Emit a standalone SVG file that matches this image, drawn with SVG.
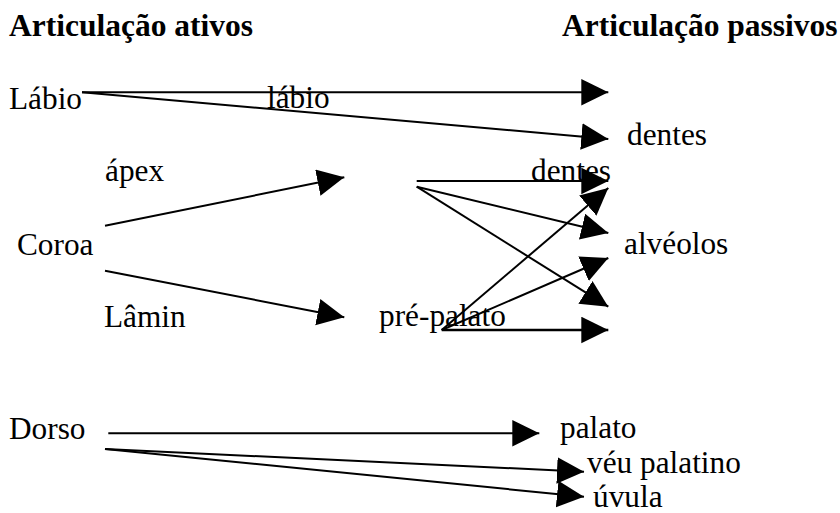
<svg xmlns="http://www.w3.org/2000/svg" width="840" height="513" viewBox="0 0 840 513">
<style>
  text { font-family: "Liberation Serif", "Times New Roman", serif; font-size: 31.3px; fill: #000; }
  .title { font-weight: bold; font-size: 31.5px; }
  .c line { stroke: #000; stroke-width: 2; marker-end: url(#arr); }
</style>
<defs>
  <marker id="arr" markerUnits="userSpaceOnUse" markerWidth="28" markerHeight="28" refX="27" refY="13.3" orient="auto" viewBox="0 0 28 28">
    <path d="M0,0 L27,13.3 L0,26.6 Z" fill="#000"/>
  </marker>
</defs>
<rect width="840" height="513" fill="#fff"/>

<g id="title-ativos"><text class="title" x="9" y="36">Articulação ativos</text></g>
<g id="title-passivos"><text class="title" x="562" y="36">Articulação passivos</text></g>

<g id="labio"><text x="9" y="109">Lábio</text></g>
<g id="labio-passivo"><text x="267" y="108">lábio</text></g>
<g id="dentes-1"><text x="627" y="145">dentes</text></g>
<g id="apex"><text x="105" y="181">ápex</text></g>
<g id="dentes-2"><text x="531" y="181">dentes</text></g>
<g id="coroa"><text x="17" y="255">Coroa</text></g>
<g id="alveolos"><text x="624" y="254">alvéolos</text></g>
<g id="lamin"><text x="104" y="327">Lâmin</text></g>
<g id="pre-palato"><text x="379" y="326">pré-palato</text></g>
<g id="dorso"><text x="9" y="439">Dorso</text></g>
<g id="palato"><text x="560" y="438">palato</text></g>
<g id="veu-palatino"><text x="587" y="473">véu palatino</text></g>
<g id="uvula"><text x="593" y="507">úvula</text></g>

<g id="connectors" class="c">
  <line x1="82" y1="92.3" x2="608.3" y2="92.3"/>
  <line x1="82" y1="92.3" x2="608.3" y2="139"/>
  <line x1="105" y1="225.7" x2="344.3" y2="177.3"/>
  <line x1="105" y1="270.7" x2="344.3" y2="317.3"/>
  <line x1="416.7" y1="181" x2="608.3" y2="181"/>
  <line x1="416.7" y1="186.7" x2="608.3" y2="233"/>
  <line x1="416.7" y1="186.7" x2="608.3" y2="306.7"/>
  <line x1="441.7" y1="330" x2="608.3" y2="188"/>
  <line x1="441.7" y1="330" x2="608.3" y2="258"/>
  <line x1="441.7" y1="330" x2="608.3" y2="330" style="stroke-width:2.6"/>
  <line x1="108.3" y1="433.3" x2="539.3" y2="433.3"/>
  <line x1="105" y1="449" x2="584" y2="471.7"/>
  <line x1="105" y1="449" x2="584" y2="496.7"/>
</g>
</svg>
